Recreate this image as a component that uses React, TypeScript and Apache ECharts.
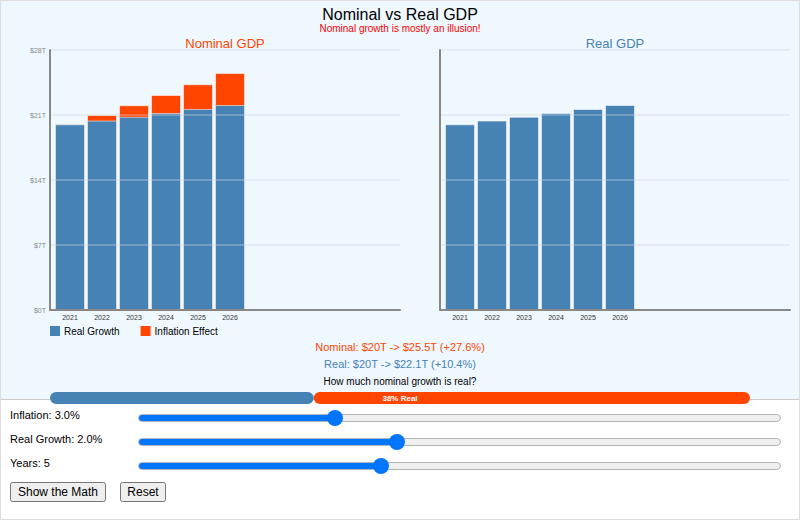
import React, { useEffect, useRef } from "react";
import * as echarts from "echarts";

// ---- data ----
const years = ["2021", "2022", "2023", "2024", "2025", "2026"];
const realGDP = [20.0, 20.4, 20.81, 21.22, 21.65, 22.08];
const nominalGDP = [20.0, 21.0, 22.05, 23.15, 24.31, 25.52];
const yTicks = [0, 7, 14, 21, 28];
const inflationRate = 3.0;
const realGrowthRate = 2.0;
const yearsCount = 5;

const BLUE = "#4682b4";
const ORANGE = "#ff4500";
const FONT = "'Liberation Sans', Arial, Helvetica, sans-serif";

const fmtT = (v: number) => `$${Number(v.toFixed(1))}T`;

const SLIDER_W = 643;
const THUMB = 16;
const thumbPos = (v: number, min: number, max: number) =>
  THUMB / 2 + ((v - min) / (max - min)) * (SLIDER_W - THUMB);

const css = `
input.rs{ -webkit-appearance:none; appearance:none; position:absolute; left:137px; width:${SLIDER_W}px; height:8px; margin:0; padding:0; border-radius:4px; border:1px solid #b5b5b5; box-sizing:border-box; outline:none; }
input.rs::-webkit-slider-thumb{ -webkit-appearance:none; appearance:none; width:${THUMB}px; height:${THUMB}px; border-radius:50%; background:#0075ff; border:none; }
`;

export default function App() {
  const ref = useRef<HTMLDivElement>(null);

  useEffect(() => {
    if (!ref.current) return;
    const chart = echarts.init(ref.current, undefined, { renderer: "svg" });

    const last = years.length - 1;
    const nomPct = (nominalGDP[last] / nominalGDP[0] - 1) * 100;
    const realPct = (realGDP[last] / realGDP[0] - 1) * 100;
    const realShare = (realPct / nomPct) * 100;

    const yMax = yTicks[yTicks.length - 1];
    const yInterval = yTicks[1] - yTicks[0];

    // one unit per year slot, 11 slots across the plot (up to 10 years)
    const xMin = -0.625;
    const xMax = 10.3125;

    const mkX = (gridIndex: number) => ({
      type: "value",
      gridIndex,
      min: xMin,
      max: xMax,
      z: 3,
      axisLine: { show: true, onZero: false, lineStyle: { color: "#888", width: 2 } },
      axisTick: { show: false },
      splitLine: { show: false },
      axisLabel: {
        customValues: years.map((_, i) => i),
        formatter: (v: number) => years[Math.round(v)] ?? "",
        fontSize: 7,
        color: "#333",
        margin: 4,
        fontFamily: FONT,
      },
    });
    const mkY = (gridIndex: number, showLabels: boolean) => ({
      type: "value",
      gridIndex,
      min: 0,
      max: yMax,
      interval: yInterval,
      z: 3,
      axisLine: { show: true, onZero: false, lineStyle: { color: "#888", width: 2 } },
      axisTick: { show: false },
      splitLine: { show: true, lineStyle: { color: "rgba(205,212,222,0.45)", width: 1.5 } },
      axisLabel: {
        show: showLabels,
        formatter: (v: number) => `$${v}T`,
        fontSize: 7,
        color: "#888",
        margin: 4,
        fontFamily: FONT,
      },
    });

    const barBorder = { borderColor: "rgba(255,255,255,0.55)", borderWidth: 1 };

    const txt = (x: number, y: number, text: string, size: number, fill: string, weight = "normal") => ({
      type: "text",
      x,
      y,
      z: 100,
      style: {
        text,
        x: 0,
        y: 0,
        fill,
        font: `${weight} ${size}px ${FONT}`,
        textAlign: "center",
        textVerticalAlign: "middle",
      },
    });

    chart.setOption({
      animation: false,
      textStyle: { fontFamily: FONT },
      grid: [
        { left: 50, top: 50, width: 350, height: 260 },
        { left: 440, top: 50, width: 350, height: 260 },
        { left: 50, top: 392, width: 700, height: 12 },
      ],
      xAxis: [mkX(0), mkX(1), { type: "value", gridIndex: 2, min: 0, max: 100, show: false }],
      yAxis: [mkY(0, true), mkY(1, false), { type: "category", gridIndex: 2, data: [""], show: false }],
      legend: {
        data: ["Real Growth", "Inflation Effect"],
        left: 50,
        top: 326,
        padding: 0,
        itemWidth: 10,
        itemHeight: 10,
        itemGap: 21,
        icon: "rect",
        itemStyle: { borderWidth: 0 },
        textStyle: { fontSize: 10, color: "#000", fontFamily: FONT, padding: [0, 0, 0, -1] },
      },
      series: [
        // nominal total (the part above real shows the inflation effect)
        {
          name: "Inflation Effect",
          type: "bar",
          xAxisIndex: 0,
          yAxisIndex: 0,
          barWidth: 30,
          barGap: "-100%",
          data: nominalGDP.map((v, i) => [i, v]),
          itemStyle: { color: ORANGE, ...barBorder },
        },
        {
          name: "Real Growth",
          type: "bar",
          xAxisIndex: 0,
          yAxisIndex: 0,
          barWidth: 30,
          barGap: "-100%",
          data: realGDP.map((v, i) => [i, v]),
          itemStyle: { color: BLUE, ...barBorder },
        },
        {
          name: "Real GDP",
          type: "bar",
          xAxisIndex: 1,
          yAxisIndex: 1,
          barWidth: 30,
          data: realGDP.map((v, i) => [i, v]),
          itemStyle: { color: BLUE, ...barBorder },
        },
        {
          name: "Real share",
          type: "bar",
          xAxisIndex: 2,
          yAxisIndex: 2,
          stack: "share",
          barWidth: 12,
          data: [realShare],
          itemStyle: { color: BLUE, borderRadius: 6 },
        },
        {
          name: "Inflation share",
          type: "bar",
          xAxisIndex: 2,
          yAxisIndex: 2,
          stack: "share",
          barWidth: 12,
          data: [100 - realShare],
          itemStyle: { color: ORANGE, borderRadius: 6 },
        },
      ],
      graphic: [
        txt(400, 14, "Nominal vs Real GDP", 16, "#000"),
        txt(400, 28, "Nominal growth is mostly an illusion!", 10, "#ff0000"),
        txt(225, 43, "Nominal GDP", 13, ORANGE),
        txt(615, 43, "Real GDP", 13, BLUE),
        txt(
          400,
          347,
          `Nominal: ${fmtT(nominalGDP[0])} -> ${fmtT(nominalGDP[last])} (+${nomPct.toFixed(1)}%)`,
          11,
          ORANGE
        ),
        txt(400, 364, `Real: ${fmtT(realGDP[0])} -> ${fmtT(realGDP[last])} (+${realPct.toFixed(1)}%)`, 11, BLUE),
        txt(400, 381, "How much nominal growth is real?", 10, "#000"),
        txt(400, 398, `${Math.round(realShare)}% Real`, 8, "#fff", "bold"),
      ],
    });

    return () => chart.dispose();
  }, []);

  const labelStyle: React.CSSProperties = {
    position: "absolute",
    left: 9,
    fontSize: 11,
    lineHeight: "16px",
    fontFamily: FONT,
    color: "#000",
    whiteSpace: "nowrap",
  };
  const trackBg = (v: number, min: number, max: number) => {
    const p = thumbPos(v, min, max) - 1;
    return `linear-gradient(to right, #0075ff 0px, #0075ff ${p}px, #efefef ${p}px, #efefef 100%)`;
  };
  const btnStyle: React.CSSProperties = {
    position: "absolute",
    top: 481,
    height: 20,
    padding: 0,
    fontSize: 12,
    fontFamily: FONT,
  };

  return (
    <div
      style={{
        position: "fixed",
        left: 0,
        top: 0,
        width: 800,
        height: 520,
        boxSizing: "border-box",
        border: "1px solid #ddd",
        background: "#fff",
        overflow: "hidden",
      }}
    >
      <style>{css}</style>
      <div
        style={{
          position: "absolute",
          left: 0,
          top: 0,
          width: 798,
          height: 398,
          background: "#f0f8ff",
          borderBottom: "1px solid #ccc",
        }}
      />
      <div ref={ref} style={{ position: "absolute", left: -1, top: -1, width: 800, height: 412 }} />

      <div style={{ ...labelStyle, top: 406 }}>Inflation: {inflationRate.toFixed(1)}%</div>
      <input
        className="rs"
        type="range"
        min={0}
        max={10}
        step={0.1}
        defaultValue={inflationRate}
        style={{ top: 413, background: trackBg(inflationRate, 0, 10) }}
      />

      <div style={{ ...labelStyle, top: 430 }}>Real Growth: {realGrowthRate.toFixed(1)}%</div>
      <input
        className="rs"
        type="range"
        min={0}
        max={5}
        step={0.1}
        defaultValue={realGrowthRate}
        style={{ top: 437, background: trackBg(realGrowthRate, 0, 5) }}
      />

      <div style={{ ...labelStyle, top: 454 }}>Years: {yearsCount}</div>
      <input
        className="rs"
        type="range"
        min={2}
        max={10}
        step={1}
        defaultValue={yearsCount}
        style={{ top: 461, background: trackBg(yearsCount, 2, 10) }}
      />

      <button style={{ ...btnStyle, left: 9, width: 96 }}>Show the Math</button>
      <button style={{ ...btnStyle, left: 119, width: 46 }}>Reset</button>
    </div>
  );
}
